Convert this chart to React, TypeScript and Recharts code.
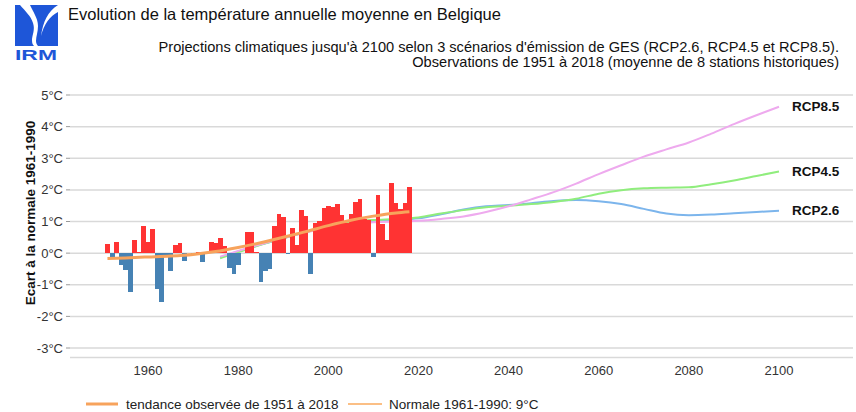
import React from "react";
import {
  ComposedChart,
  Bar,
  Line,
  XAxis,
  YAxis,
  CartesianGrid,
  LabelList,
} from "recharts";

// observed annual anomalies vs 1961-1990 normal, 1951..2018
const firstObsYear = 1951;
const anomalies = [
  0.29, -0.19, 0.36, -0.37, -0.53, -1.24, 0.42, 0.05, 0.86, 0.34, // 1951-1960
  0.77, -1.14, -1.53, -0.05, -0.58, 0.26, 0.32, -0.24, 0.02, -0.02, // 1961-1970
  0.04, -0.29, 0.02, 0.36, 0.31, 0.49, 0.23, -0.48, -0.67, -0.36, // 1971-1980
  0.02, 0.67, 0.67, 0.03, -0.9, -0.55, -0.5, 0.86, 1.24, 1.15, // 1981-1990
  -0.03, 0.8, 0.26, 1.37, 1.18, -0.65, 0.96, 1.02, 1.43, 1.49, // 1991-2000
  1.45, 1.54, 1.21, 0.95, 1.24, 1.61, 1.72, 1.08, 1.06, -0.12, // 2001-2010
  1.85, 0.93, 0.42, 2.23, 1.57, 1.4, 1.6, 2.1, // 2011-2018
];

const trendYears = [1951, 1955, 1960, 1965, 1970, 1975, 1980, 1985, 1990, 1995, 2000, 2005, 2010, 2015, 2018];
const trendValues = [-0.17, -0.15, -0.12, -0.09, -0.04, 0.05, 0.18, 0.33, 0.5, 0.68, 0.87, 1.04, 1.17, 1.27, 1.31];

const rcpYears = [
  1976, 1980, 1985, 1990, 1995, 2000, 2005, 2010, 2015, 2020, 2025, 2030, 2035,
  2040, 2045, 2050, 2055, 2060, 2065, 2070, 2075, 2080, 2085, 2090, 2095, 2100,
];
const rcp26 = [
  -0.14, 0.05, 0.27, 0.47, 0.66, 0.83, 0.96, 1.02, 1.05, 1.1, 1.23, 1.38, 1.48,
  1.52, 1.58, 1.65, 1.68, 1.64, 1.55, 1.4, 1.25, 1.2, 1.22, 1.26, 1.3, 1.34,
];
const rcp45 = [
  -0.16, 0.03, 0.26, 0.47, 0.67, 0.85, 0.99, 1.05, 1.08, 1.13, 1.25, 1.36, 1.45,
  1.5, 1.55, 1.62, 1.72, 1.88, 1.99, 2.05, 2.07, 2.08, 2.18, 2.3, 2.44, 2.58,
];
const rcp85 = [
  -0.11, 0.07, 0.28, 0.48, 0.65, 0.8, 0.92, 0.98, 1.0, 1.02, 1.08, 1.16, 1.3,
  1.48, 1.7, 1.93, 2.2, 2.5, 2.78, 3.05, 3.28, 3.5, 3.78, 4.08, 4.36, 4.63,
];

const xTicks = [1960, 1980, 2000, 2020, 2040, 2060, 2080, 2100];
const yTicks = [-3, -2, -1, 0, 1, 2, 3, 4, 5];

const FONT = "'Liberation Sans', Arial, Helvetica, sans-serif";

const obsData = anomalies.map((value, i) => ({ year: firstObsYear + i, value }));
const trendData = trendYears.map((year, i) => ({ year, value: trendValues[i] }));
const toRcp = (vals: number[]) => rcpYears.map((year, i) => ({ year, value: vals[i] }));

// recharts floors the bar width to whole pixels, widen it so the years touch
const AnomalyBar = (p: any) => {
  const w = 4.6;
  const cx = p.x + p.width / 2;
  const top = Math.min(p.y, p.y + p.height);
  const h = Math.abs(p.height);
  const v = p.payload?.value ?? p.value;
  return (
    <rect
      x={cx - w / 2}
      y={top}
      width={w}
      height={h}
      fill={v >= 0 ? "#ff3333" : "#4682b4"}
      shapeRendering="crispEdges"
    />
  );
};

const endLabel = (name: string) => (p: any) => {
  if (p.index !== rcpYears.length - 1) return null;
  const x = p.x ?? p.viewBox?.x;
  const y = p.y ?? p.viewBox?.y;
  return (
    <text
      x={x + 13}
      y={y}
      dy="0.35em"
      fontFamily={FONT}
      fontSize={13.5}
      fontWeight="bold"
      fill="#111"
    >
      {name}
    </text>
  );
};

const series = [
  { name: "RCP2.6", values: rcp26, color: "#7cb5ec" },
  { name: "RCP4.5", values: rcp45, color: "#90ed7d" },
  { name: "RCP8.5", values: rcp85, color: "#eeaaee" },
];

export default function App() {
  return (
    <div style={{ position: "absolute", left: 0, top: 0, width: 856, height: 412, background: "#fff" }}>
      <ComposedChart
        width={856}
        height={412}
        data={obsData}
        margin={{ top: 95, right: 3, left: 0, bottom: 24.5 }}
        barCategoryGap={0}
        barGap={0}
        style={{ fontFamily: FONT }}
      >
        <CartesianGrid vertical={false} stroke="#d9d9d9" strokeWidth={1.5} />
        <XAxis
          type="number"
          dataKey="year"
          domain={[1942.69, 2116.42]}
          ticks={xTicks}
          allowDataOverflow
          axisLine={false}
          tickLine={false}
          tickMargin={2}
          height={30}
          tick={{ fontSize: 13, fill: "#333" }}
        />
        <YAxis
          type="number"
          domain={[-3.3, 5]}
          ticks={yTicks}
          allowDataOverflow
          tickFormatter={(v) => `${v}°C`}
          width={70}
          axisLine={false}
          tickSize={4}
          tickMargin={3}
          tickLine={{ stroke: "#999" }}
          tick={{ fontSize: 13, fill: "#333" }}
        />
        {series.map((s) => (
          <Line
            key={s.name}
            data={toRcp(s.values)}
            dataKey="value"
            type="monotone"
            stroke={s.color}
            strokeWidth={2}
            dot={false}
            activeDot={false}
            isAnimationActive={false}
            zIndex={250}
          >
            <LabelList dataKey="value" content={endLabel(s.name)} />
          </Line>
        ))}
        <Bar dataKey="value" shape={AnomalyBar} isAnimationActive={false} />
        <Line
          data={trendData}
          dataKey="value"
          type="monotone"
          stroke="#f7a35c"
          strokeWidth={3}
          dot={false}
          activeDot={false}
          isAnimationActive={false}
        />
      </ComposedChart>

      <svg
        width={856}
        height={412}
        style={{ position: "absolute", left: 0, top: 0, pointerEvents: "none" }}
        fontFamily={FONT}
      >
        {/* logo */}
        <rect x={15} y={5} width={43} height={41} fill="#1e56d8" />
        <path
          d="M20 5 L30 5 C33 12 38 18 38 26 C38 32 36 36 36 41 C36 43 37 45 38 46 L34 46 C32 44 32 42 32 39 C33 33 35 29 33 23 C31 16 25 11 20 5 Z"
          fill="#fff"
        />
        <path d="M58 5 L58 12 C50 16 44 24 41 36 C43 22 48 11 58 5 Z" fill="#fff" />
        <text
          x={15}
          y={60}
          fontSize={14}
          fontWeight="bold"
          fill="#1e56d8"
          textLength={42}
          lengthAdjust="spacingAndGlyphs"
        >
          IRM
        </text>

        <text x={68} y={20} fontSize={16.5} fill="#111">
          Evolution de la température annuelle moyenne en Belgique
        </text>
        <text x={839} y={52} fontSize={14.6} fill="#111" textAnchor="end">
          Projections climatiques jusqu'à 2100 selon 3 scénarios d'émission de GES (RCP2.6, RCP4.5 et RCP8.5).
        </text>
        <text x={839} y={67} fontSize={14.6} fill="#111" textAnchor="end">
          Observations de 1951 à 2018 (moyenne de 8 stations historiques)
        </text>

        <text
          transform="translate(30,213) rotate(-90)"
          textAnchor="middle"
          dy="0.35em"
          fontSize={13.5}
          fontWeight="bold"
          fill="#111"
        >
          Ecart à la normale 1961-1990
        </text>

        {/* legend */}
        <line x1={86} x2={118} y1={404} y2={404} stroke="#f7a35c" strokeWidth={3} />
        <text x={126} y={404} dy="0.35em" fontSize={13.5} fill="#222">
          tendance observée de 1951 à 2018
        </text>
        <line x1={348} x2={382} y1={404} y2={404} stroke="#fbbf85" strokeWidth={2} />
        <text x={389} y={404} dy="0.35em" fontSize={13.5} fill="#222">
          Normale 1961-1990: 9°C
        </text>
      </svg>
    </div>
  );
}
